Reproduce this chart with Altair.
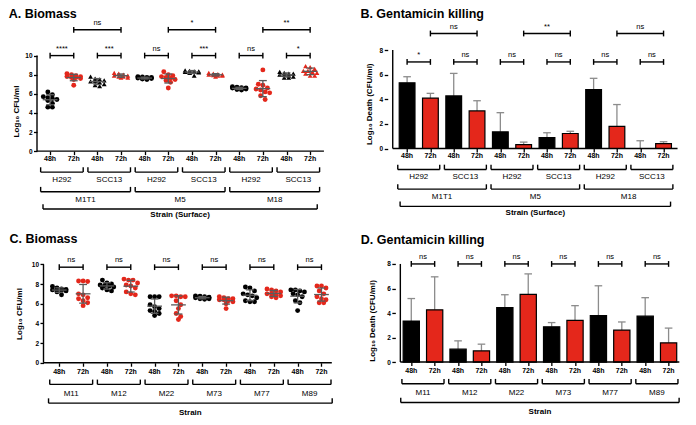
import altair as alt
import pandas as pd
import statistics as st

FONT = "Liberation Sans"
BLACK = "#000000"
RED = "#e4271b"
BAR_RED = "#de2d12"
MEAN_GREY = "#5a5a5a"
ERR_GREY = "#8c8c8c"
TIMES = ["48h", "72h"]

# ---------------- Panel A: biomass on surfaces (Log10 CFU/ml) ----------------
A_STRAINS = ["M1T1", "M5", "M18"]
A_SURFACES = ["H292", "SCC13"]
A_M1T1_H292_48 = [6.2, 5.9, 5.7, 5.6, 5.5, 5.4, 5.3, 5.0, 4.6, 4.6]
A_M1T1_H292_72 = [8.1, 8.0, 7.9, 7.8, 7.8, 7.7, 7.7, 7.6, 7.5, 6.9]
A_M1T1_SCC13_48 = [7.8, 7.6, 7.5, 7.4, 7.3, 7.3, 7.2, 7.0, 6.9, 6.8]
A_M1T1_SCC13_72 = [8.2, 8.1, 8.0, 7.9, 7.9, 7.8, 7.8, 7.7, 7.7]
A_M5_H292_48 = [7.8, 7.75, 7.7, 7.7, 7.65, 7.6, 7.6, 7.55, 7.5, 7.6]
A_M5_H292_72 = [8.3, 8.0, 7.9, 7.8, 7.7, 7.6, 7.5, 7.4, 7.2, 6.6]
A_M5_SCC13_48 = [8.45, 8.4, 8.35, 8.35, 8.3, 8.3, 8.3, 8.25, 8.2, 7.9]
A_M5_SCC13_72 = [8.2, 8.1, 8.05, 8.0, 8.0, 7.95, 7.9, 7.9, 7.8]
A_M18_H292_48 = [6.75, 6.7, 6.65, 6.6, 6.6, 6.55, 6.5, 6.5, 6.45, 6.4]
A_M18_H292_72 = [8.5, 7.0, 6.9, 6.6, 6.5, 6.4, 6.2, 6.1, 5.8, 5.4]
A_M18_SCC13_48 = [8.3, 8.2, 8.1, 8.1, 8.0, 8.0, 7.9, 7.8, 7.7, 7.7]
A_M18_SCC13_72 = [8.9, 8.8, 8.6, 8.4, 8.4, 8.3, 8.2, 8.1, 7.9, 7.9]
A_SIG_TIME = ["****", "***", "ns", "***", "ns", "*"]
A_SIG_SURFACE = ["ns", "*", "**"]
A_SIG_LEVELS = (10.0, 12.7)

# ---------------- Panel B: gentamicin killing on surfaces ----------------
B_MEAN_48 = [5.34, 4.27, 1.35, 0.89, 4.79, 0.0]
B_SD_48 = [0.49, 1.83, 1.56, 0.39, 0.91, 0.63]
B_MEAN_72 = [4.09, 3.05, 0.31, 1.22, 1.80, 0.39]
B_SD_72 = [0.39, 0.83, 0.21, 0.18, 1.77, 0.16]
B_SIG_TIME = ["*", "ns", "ns", "ns", "ns", "ns"]
B_SIG_SURFACE = ["ns", "**", "ns"]
B_SIG_LEVELS = (7.03, 9.34)

# ---------------- Panel C: biomass per strain ----------------
C_STRAINS = ["M11", "M12", "M22", "M73", "M77", "M89"]
C_M11_48 = [7.75, 7.6, 7.5, 7.45, 7.4, 7.4, 7.35, 7.3, 7.2, 6.9]
C_M11_72 = [8.3, 8.3, 8.25, 7.0, 6.9, 6.6, 6.5, 6.3, 6.1, 5.8]
C_M12_48 = [8.4, 8.1, 8.0, 7.9, 7.85, 7.8, 7.7, 7.6, 7.4, 7.3]
C_M12_72 = [8.5, 8.4, 8.4, 8.1, 7.9, 7.8, 7.6, 7.2, 7.0, 6.9]
C_M22_48 = [6.7, 6.7, 6.7, 5.9, 5.7, 5.5, 5.3, 5.2, 5.0, 4.8]
C_M22_72 = [6.8, 6.8, 6.7, 6.7, 6.3, 5.9, 5.5, 5.0, 4.7, 4.4]
C_M73_48 = [6.8, 6.75, 6.7, 6.65, 6.6, 6.6, 6.55, 6.5, 6.45, 6.5]
C_M73_72 = [6.7, 6.6, 6.5, 6.5, 6.4, 6.4, 6.3, 6.2, 6.0, 5.5]
C_M77_48 = [7.7, 7.6, 7.3, 7.0, 6.9, 6.8, 6.6, 6.3, 6.2, 6.2]
C_M77_72 = [7.5, 7.4, 7.3, 7.2, 7.0, 7.0, 6.9, 6.8, 6.7, 6.6]
C_M89_48 = [7.4, 7.4, 7.3, 7.2, 7.0, 6.9, 6.7, 6.3, 6.1, 5.3]
C_M89_72 = [7.8, 7.8, 7.6, 7.3, 7.0, 6.7, 6.5, 6.4, 6.1, 6.1]
C_SIG = ["ns", "ns", "ns", "ns", "ns", "ns"]
C_SIG_LEVEL = 9.71

# ---------------- Panel D: gentamicin killing per strain ----------------
D_MEAN_48 = [3.35, 1.05, 4.44, 2.88, 3.79, 3.74]
D_SD_48 = [1.83, 0.68, 1.05, 0.34, 2.43, 1.51]
D_MEAN_72 = [4.26, 0.92, 5.52, 3.40, 2.61, 1.57]
D_SD_72 = [2.69, 0.54, 1.67, 1.20, 0.66, 1.20]
D_SIG = ["ns", "ns", "ns", "ns", "ns", "ns"]
D_SIG_LEVEL = 8.0

# ---------------- layout (reference pixels) ----------------
SX, SY = 0.985, 0.962
GEO = {
    "A": dict(left=30.7, right=322.0, y0=150.0, ppu=9.93, ymax=10, p0=44.0, step=24.0,
              title="A. Biomass", tpos=(2.0, 11.7), ytitle="Log₁₀ CFU/ml", ytc=(9.9, 108.3)),
    "B": dict(left=386.7, right=686.0, y0=147.3, ppu=12.8, ymax=8, p0=401.8, step=24.5,
              title="B. Gentamicin killing", tpos=(352.7, 11.7),
              ytitle="Log₁₀ Death (CFU/ml)", ytc=(367.8, 100.8)),
    "C": dict(left=37.3, right=330.0, y0=370.0, ppu=10.23, ymax=10, p0=53.3, step=24.2,
              title="C. Biomass", tpos=(2.7, 246.0), ytitle="Log₁₀ CFU/ml", ytc=(12.7, 318.8)),
    "D": dict(left=394.3, right=687.7, y0=369.3, ppu=12.75, ymax=8, p0=405.8, step=24.6,
              title="D. Gentamicin killing", tpos=(352.7, 246.5),
              ytitle="Log₁₀ Death (CFU/ml)", ytc=(371.0, 326.0)),
}
ROW_TOP = {
    1: min(GEO[k]["y0"] - GEO[k]["ymax"] * GEO[k]["ppu"] for k in "AB"),
    2: min(GEO[k]["y0"] - GEO[k]["ymax"] * GEO[k]["ppu"] for k in "CD"),
}
COL1_LEFT = min(GEO["A"]["left"], GEO["C"]["left"])
for k in "ABCD":
    P = GEO[k]
    P["pa_top"] = ROW_TOP[1] if k in "AB" else ROW_TOP[2]
    P["pa_left"] = COL1_LEFT if k in "AC" else P["left"]
    P["xdom"] = [(P["pa_left"] - P["p0"]) / P["step"], (P["right"] - P["p0"]) / P["step"]]
    P["ydom"] = [0, (P["y0"] - P["pa_top"]) / P["ppu"]]
    P["w"] = (P["right"] - P["pa_left"]) * SX
    P["h"] = (P["y0"] - P["pa_top"]) * SY
    P["axoff"] = -(P["left"] - P["pa_left"]) * SX
    P["tx"] = (P["ytc"][0] - P["left"]) * SX
    P["ty"] = (P["ytc"][1] - P["pa_top"]) * SY


def X(P, px):
    return (px - P["p0"]) / P["step"]


def Y(P, py):
    return (P["y0"] - py) / P["ppu"]


def DX(P, d):
    return d / P["step"]


def DY(P, d):
    return d / P["ppu"]


def enc(P):
    x = alt.X("x:Q", title=None,
              scale=alt.Scale(domain=P["xdom"], nice=False, zero=False),
              axis=alt.Axis(values=list(range(12)), labels=False, domain=False, grid=False,
                            ticks=True, tickSize=3.5, tickWidth=1.3, tickColor=BLACK))
    y = alt.Y("y:Q", title=P["ytitle"],
              scale=alt.Scale(domain=P["ydom"], nice=False, zero=False),
              axis=alt.Axis(values=list(range(0, P["ymax"] + 1, 2)), format="d", domain=False,
                            grid=False, ticks=True, tickSize=3.5, tickWidth=1.3, tickColor=BLACK,
                            labelFont=FONT, labelFontSize=6.5, labelFontWeight="bold",
                            labelColor=BLACK, labelPadding=1.5, offset=P["axoff"],
                            titleFont=FONT, titleFontSize=8, titleFontWeight="bold",
                            titleColor=BLACK, titleAngle=270, titleAlign="center",
                            titleBaseline="middle", titleX=P["tx"], titleY=P["ty"]))
    return x, y


def spread(vals, P, thr_px=4.5, gap_px=4.6, maxn=4):
    order = sorted(range(len(vals)), key=lambda k: -vals[k])
    offs = [0.0] * len(vals)
    i = 0
    while i < len(order):
        row = [order[i]]
        j = i + 1
        while (j < len(order) and len(row) < maxn
               and (vals[order[i]] - vals[order[j]]) * P["ppu"] < thr_px):
            row.append(order[j])
            j += 1
        n = len(row)
        for r, k in enumerate(row):
            offs[k] = DX(P, (r - (n - 1) / 2) * gap_px)
        i = j
    return offs


def seg(rows, x, y, x2, y2):
    rows.append(dict(x=x, y=y, x2=x2, y2=y2))


def bracket_below(rows, P, c0, c1, ext, dpx, tick=5.0):
    y = -DY(P, dpx)
    h = DY(P, tick)
    a, b = c0 - ext, c1 + ext
    seg(rows, a, y, b, y)
    seg(rows, a, y, a, y + h)
    seg(rows, b, y, b, y + h)


def sig_bracket(rows, texts, P, c0, c1, level, label, tick=3.0):
    h = DY(P, tick)
    seg(rows, c0, level, c1, level)
    seg(rows, c0, level - h, c0, level + h)
    seg(rows, c1, level - h, c1, level + h)
    texts.append(dict(x=(c0 + c1) / 2, y=level + DY(P, 5.0), text=label, style="sig"))


STYLES = {
    "title": dict(fontSize=12.5, fontWeight="bold", align="left"),
    "time": dict(fontSize=7, fontWeight="bold", align="center"),
    "group": dict(fontSize=8, fontWeight="normal", align="center"),
    "axis": dict(fontSize=8, fontWeight="bold", align="center"),
    "sig": dict(fontSize=7.5, fontWeight="normal", align="center"),
}


def common_layers(P, segs, texts):
    x, y = enc(P)
    layers = []
    ax = []
    seg(ax, X(P, P["left"]), 0, X(P, P["right"]), 0)
    seg(ax, X(P, P["left"]), 0, X(P, P["left"]), P["ymax"])
    layers.append(alt.Chart(pd.DataFrame(ax + segs)).mark_rule(color=BLACK, strokeWidth=1.4)
                  .encode(x=x, y=y, x2="x2:Q", y2="y2:Q"))
    texts = texts + [dict(x=X(P, P["tpos"][0]), y=Y(P, P["tpos"][1]), text=P["title"], style="title")]
    tdf = pd.DataFrame(texts)
    for name, s in STYLES.items():
        sub = tdf[tdf["style"] == name]
        if len(sub):
            layers.append(alt.Chart(sub).mark_text(font=FONT, color=BLACK, baseline="alphabetic", **s)
                          .encode(x=x, y=y, text="text:N"))
    return layers


def surface_labels(P, strains, surfaces, segs, texts, title):
    for c in range(12):
        texts.append(dict(x=c, y=-DY(P, 10.3), text=TIMES[c % 2], style="time"))
    for k in range(6):
        c0 = 2 * k
        bracket_below(segs, P, c0, c0 + 1, 0.4, 21.8)
        texts.append(dict(x=c0 + 0.5, y=-DY(P, 32.2), text=surfaces[k % 2], style="group"))
    for s in range(3):
        c0 = 4 * s
        bracket_below(segs, P, c0, c0 + 3, 0.4, 42.2)
        texts.append(dict(x=c0 + 1.5, y=-DY(P, 52.7), text=strains[s], style="group"))
    bracket_below(segs, P, 0, 11, 0.3, 60.2)
    texts.append(dict(x=5.5, y=-DY(P, 68.9), text=title, style="axis"))


def strain_labels(P, strains, segs, texts, title):
    for c in range(12):
        texts.append(dict(x=c, y=-DY(P, 11.6), text=TIMES[c % 2], style="time"))
    for k in range(6):
        c0 = 2 * k
        bracket_below(segs, P, c0, c0 + 1, 0.4, 22.5)
        texts.append(dict(x=c0 + 0.5, y=-DY(P, 34.2), text=strains[k], style="group"))
    bracket_below(segs, P, 0, 11, 0.45, 42.0)
    texts.append(dict(x=5.5, y=-DY(P, 54.0), text=title, style="axis"))


def scatter_panel(P, groups, shapes):
    x, y = enc(P)
    pts, stat = [], []
    for c, (surface, time, vals) in enumerate(groups):
        offs = spread(vals, P)
        for v, o in zip(vals, offs):
            pts.append(dict(x=c + o, y=v, time=time, surface=surface))
        m = st.mean(vals)
        s = st.stdev(vals)
        seg(stat, c, m - s, c, m + s)
        seg(stat, c - DX(P, 4), m - s, c + DX(P, 4), m - s)
        seg(stat, c - DX(P, 4), m + s, c + DX(P, 4), m + s)
        seg(stat, c - DX(P, 7.5), m, c + DX(P, 7.5), m)
    point_layer = alt.Chart(pd.DataFrame(pts)).mark_point(filled=True, size=24, opacity=1).encode(
        x=x, y=y,
        color=alt.Color("time:N", scale=alt.Scale(domain=TIMES, range=[BLACK, RED]), legend=None),
        shape=alt.Shape("surface:N", scale=alt.Scale(domain=shapes[0], range=shapes[1]), legend=None),
    )
    stat_layer = alt.Chart(pd.DataFrame(stat)).mark_rule(color=MEAN_GREY, strokeWidth=1.3).encode(
        x=x, y=y, x2="x2:Q", y2="y2:Q")
    return [point_layer, stat_layer]


def bar_panel(P, mean48, sd48, mean72, sd72, bar_w):
    x, y = enc(P)
    bars, err = [], []
    for k in range(6):
        for t, (mm, ss) in enumerate([(mean48[k], sd48[k]), (mean72[k], sd72[k])]):
            c = 2 * k + t
            bars.append(dict(x=c, y=mm, y2=0.0, time=TIMES[t]))
            seg(err, c, mm, c, mm + ss)
            seg(err, c - DX(P, 4), mm + ss, c + DX(P, 4), mm + ss)
    err_layer = alt.Chart(pd.DataFrame(err)).mark_rule(color=ERR_GREY, strokeWidth=1.3).encode(
        x=x, y=y, x2="x2:Q", y2="y2:Q")
    bar_layer = alt.Chart(pd.DataFrame(bars)).mark_bar(width=bar_w, stroke=BLACK, strokeWidth=1.2).encode(
        x=x, y=y, y2="y2:Q",
        color=alt.Color("time:N", scale=alt.Scale(domain=TIMES, range=[BLACK, BAR_RED]), legend=None),
    )
    return [err_layer, bar_layer]


# ---------- Panel A ----------
P = GEO["A"]
segs, texts = [], []
surface_labels(P, A_STRAINS, A_SURFACES, segs, texts, "Strain (Surface)")
for k in range(6):
    sig_bracket(segs, texts, P, 2 * k, 2 * k + 1, A_SIG_LEVELS[0], A_SIG_TIME[k])
for s in range(3):
    sig_bracket(segs, texts, P, 4 * s + 1, 4 * s + 3, A_SIG_LEVELS[1], A_SIG_SURFACE[s])
A_GROUPS = [
    ("H292", "48h", A_M1T1_H292_48), ("H292", "72h", A_M1T1_H292_72),
    ("SCC13", "48h", A_M1T1_SCC13_48), ("SCC13", "72h", A_M1T1_SCC13_72),
    ("H292", "48h", A_M5_H292_48), ("H292", "72h", A_M5_H292_72),
    ("SCC13", "48h", A_M5_SCC13_48), ("SCC13", "72h", A_M5_SCC13_72),
    ("H292", "48h", A_M18_H292_48), ("H292", "72h", A_M18_H292_72),
    ("SCC13", "48h", A_M18_SCC13_48), ("SCC13", "72h", A_M18_SCC13_72),
]
pA = alt.layer(*(scatter_panel(P, A_GROUPS, (A_SURFACES, ["circle", "triangle-up"]))
                 + common_layers(P, segs, texts))).properties(width=P["w"], height=P["h"])

# ---------- Panel B ----------
P = GEO["B"]
segs, texts = [], []
surface_labels(P, A_STRAINS, A_SURFACES, segs, texts, "Strain (Surface)")
for k in range(6):
    sig_bracket(segs, texts, P, 2 * k, 2 * k + 1, B_SIG_LEVELS[0], B_SIG_TIME[k])
for s in range(3):
    sig_bracket(segs, texts, P, 4 * s + 1, 4 * s + 3, B_SIG_LEVELS[1], B_SIG_SURFACE[s])
pB = alt.layer(*(bar_panel(P, B_MEAN_48, B_SD_48, B_MEAN_72, B_SD_72, 16 * SX)
                 + common_layers(P, segs, texts))).properties(width=P["w"], height=P["h"])

# ---------- Panel C ----------
P = GEO["C"]
segs, texts = [], []
strain_labels(P, C_STRAINS, segs, texts, "Strain")
for k in range(6):
    sig_bracket(segs, texts, P, 2 * k, 2 * k + 1, C_SIG_LEVEL, C_SIG[k])
C_GROUPS = [
    ("all", "48h", C_M11_48), ("all", "72h", C_M11_72),
    ("all", "48h", C_M12_48), ("all", "72h", C_M12_72),
    ("all", "48h", C_M22_48), ("all", "72h", C_M22_72),
    ("all", "48h", C_M73_48), ("all", "72h", C_M73_72),
    ("all", "48h", C_M77_48), ("all", "72h", C_M77_72),
    ("all", "48h", C_M89_48), ("all", "72h", C_M89_72),
]
pC = alt.layer(*(scatter_panel(P, C_GROUPS, (["all"], ["circle"]))
                 + common_layers(P, segs, texts))).properties(width=P["w"], height=P["h"])

# ---------- Panel D ----------
P = GEO["D"]
segs, texts = [], []
strain_labels(P, C_STRAINS, segs, texts, "Strain")
for k in range(6):
    sig_bracket(segs, texts, P, 2 * k, 2 * k + 1, D_SIG_LEVEL, D_SIG[k])
pD = alt.layer(*(bar_panel(P, D_MEAN_48, D_SD_48, D_MEAN_72, D_SD_72, 16.5 * SX)
                 + common_layers(P, segs, texts))).properties(width=P["w"], height=P["h"])

sp1 = (GEO["B"]["left"] - GEO["A"]["right"]) * SX
sp2 = (GEO["D"]["left"] - GEO["C"]["right"]) * SX
# with flush bounds a nested row counts as zero height, so the spacing is top-to-top
spv = (ROW_TOP[2] - ROW_TOP[1]) * SY

row1 = alt.hconcat(pA, pB, spacing=sp1, bounds="flush")
row2 = alt.hconcat(pC, pD, spacing=sp2, bounds="flush")
chart = (alt.vconcat(row1, row2, spacing=spv, bounds="flush")
         .properties(padding=0, background="white")
         .configure_view(stroke=None))

chart.save("out.html", embed_options={"renderer": "svg", "actions": False})
